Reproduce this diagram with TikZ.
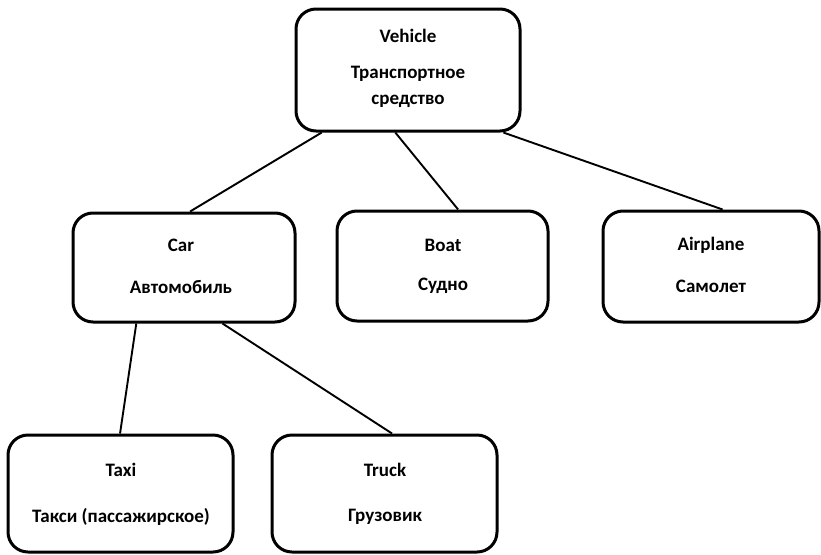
\documentclass[tikz,border=0pt]{standalone}
\usepackage{fontspec}
\setmainfont{Carlito}
\usetikzlibrary{calc}
\tikzset{
  box/.style={draw, line width=3pt, rounded corners=20pt, inner sep=0pt},
  lbl/.style={font=\bfseries\fontsize{19}{22}\selectfont, inner sep=0pt, anchor=center},
  link/.style={line width=1.9pt}
}
\newcommand{\boxat}[5]{% name, left, top, right, bottom
  \node[box, minimum width=#4pt-#2pt, minimum height=#5pt-#3pt] (#1) at ({(#2+#4)/2},{(#3+#5)/2}) {};}
\begin{document}
\begin{tikzpicture}[x=1pt,y=-1pt]
\useasboundingbox (0,0) rectangle (821,554);
% boxes
\boxat{veh}{296}{9}{520}{131}
\boxat{car}{73}{213}{295}{322}
\boxat{boat}{337}{211}{548}{321}
\boxat{air}{603}{211}{819}{322}
\boxat{taxi}{8}{435}{233}{552}
\boxat{truck}{272}{435}{497}{552}
% labels
\node[lbl] (vehA) at (408,36) {Vehicle};
\node[lbl] (vehB) at (408,74) {Транспортное};
\node[lbl] (vehC) at (408,101) {средство};
\node[lbl] (carA) at (181,245) {Car};
\node[lbl] (carB) at (181,287) {Автомобиль};
\node[lbl] (boatA) at (443,245) {Boat};
\node[lbl] (boatB) at (443,286) {Судно};
\node[lbl] (airA) at (711,245) {Airplane};
\node[lbl] (airB) at (711,286) {Самолет};
\node[lbl] (taxiA) at (121,470) {Taxi};
\node[lbl] (taxiB) at (121,517) {Такси (пассажирское)};
\node[lbl] (truckA) at (385,470) {Truck};
\node[lbl] (truckB) at (385,517) {Грузовик};
% connectors
\draw[link] ($(veh.south west)!0.12!(veh.south east)$) -- ($(car.north west)!0.527!(car.north east)$);
\draw[link] ($(veh.south west)!0.444!(veh.south east)$) -- ($(boat.north west)!0.573!(boat.north east)$);
\draw[link] ($(veh.south west)!0.92!(veh.south east)$) -- ($(air.north west)!0.553!(air.north east)$);
\draw[link] ($(car.south west)!0.288!(car.south east)$) -- ($(taxi.north west)!0.498!(taxi.north east)$);
\draw[link] ($(car.south west)!0.671!(car.south east)$) -- ($(truck.north west)!0.533!(truck.north east)$);
\end{tikzpicture}
\end{document}
